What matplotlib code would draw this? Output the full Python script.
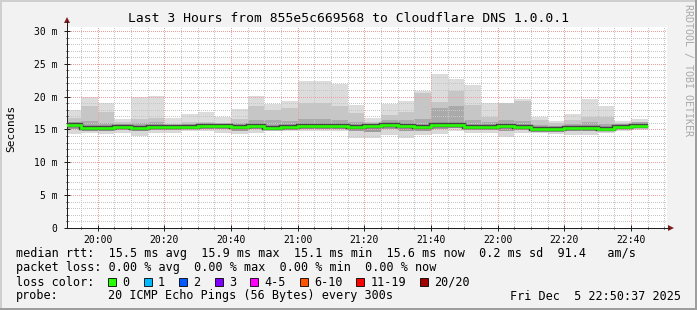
import matplotlib
matplotlib.use('Agg')
import matplotlib.pyplot as plt
import matplotlib.dates as mdates
from matplotlib.patches import Rectangle, Polygon
from matplotlib.lines import Line2D
from matplotlib.ticker import MultipleLocator
import pandas as pd

# ---------------- data (ms), one value per 5-minute bin starting 19:50 ----------------
bin_start = "2025-12-05 19:50"
bin_minutes = 5
ping_max = [18.0, 20.0, 19.0, 16.6, 19.9, 20.1, 16.8, 17.4, 17.6, 16.95, 18.1, 20.1,
            18.9, 19.3, 22.4, 22.4, 21.9, 18.8, 16.8, 18.9, 19.4, 20.9, 23.45, 22.7,
            21.8, 19.1, 19.1, 19.6, 16.85, 16.3, 17.4, 19.6, 18.6, 16.3, 16.6]
ping_q90 = [16.7, 18.5, 17.6, 16.2, 16.6, 16.75, 15.9, 16.2, 16.2, 15.95, 16.6, 18.5,
            18.0, 18.3, 19.0, 19.0, 18.5, 17.5, 16.2, 17.2, 17.6, 20.5, 19.2, 20.9,
            18.7, 16.95, 19.0, 19.3, 16.5, 16.0, 16.5, 16.85, 16.95, 16.0, 16.2]
ping_q75 = [16.2, 16.3, 16.0, 15.9, 16.0, 16.1, 15.7, 15.9, 16.0, 15.9, 16.0, 16.5,
            16.4, 16.3, 16.6, 16.6, 16.4, 16.2, 15.9, 16.4, 16.5, 16.6, 18.2, 18.5,
            16.5, 16.1, 16.4, 16.3, 15.7, 15.6, 15.9, 16.1, 15.8, 15.9, 16.1]
ping_median = [15.63, 15.23, 15.23, 15.38, 15.23, 15.45, 15.3, 15.45, 15.53, 15.5, 15.3, 15.6,
               15.27, 15.3, 15.5, 15.5, 15.6, 15.4, 15.6, 15.7, 15.6, 15.4, 15.7, 15.7,
               15.4, 15.45, 15.5, 15.4, 15.07, 15.07, 15.2, 15.25, 15.07, 15.45, 15.6]
ping_q10 = [15.0, 14.8, 14.7, 14.9, 14.8, 14.9, 14.9, 15.0, 15.1, 15.0, 14.8, 15.0,
            15.0, 14.9, 15.0, 15.1, 15.1, 14.7, 14.6, 15.0, 14.7, 14.8, 15.1, 15.2,
            14.9, 14.9, 14.8, 14.9, 14.6, 14.6, 14.7, 14.7, 14.7, 15.0, 15.2]
ping_min = [14.3, 14.4, 14.3, 14.5, 14.0, 14.4, 14.5, 14.7, 14.7, 14.5, 14.3, 14.4,
            14.7, 14.7, 14.7, 14.8, 14.8, 13.75, 13.65, 14.2, 13.65, 14.2, 14.3, 14.7,
            14.4, 14.4, 13.9, 14.4, 14.4, 14.3, 14.1, 14.1, 14.4, 14.7, 14.9]

y_ticks = [0, 5, 10, 15, 20, 25, 30]
y_tick_labels = ["0", "5 m", "10 m", "15 m", "20 m", "25 m", "30 m"]
title = "Last 3 Hours from 855e5c669568 to Cloudflare DNS 1.0.0.1"
legend_rtt = "median rtt:  15.5 ms avg  15.9 ms max  15.1 ms min  15.6 ms now  0.2 ms sd  91.4   am/s"
legend_loss = "packet loss: 0.00 % avg  0.00 % max  0.00 % min  0.00 % now"
loss_labels = ["0", "1", "2", "3", "4-5", "6-10", "11-19", "20/20"]
loss_colors = ["#26ff00", "#00b8ff", "#0059ff", "#7e00ff", "#ff00ff", "#ff5500", "#ff0000", "#a10000"]
probe_text = "20 ICMP Echo Pings (56 Bytes) every 300s"
stamp_text = "Fri Dec  5 22:50:37 2025"

# ---------------- figure ----------------
W, H = 697, 310
MONO = "DejaVu Sans Mono"
plt.rcParams['font.family'] = MONO
fig = plt.figure(figsize=(W / 100, H / 100), dpi=100, facecolor='#f2f2f2')


def fx(px):
    return px / W


def fy(py):
    return 1 - py / H


L, R, T, B = 67, 667, 27, 228
ax = fig.add_axes([fx(L), fy(B), fx(R) - fx(L), fy(T) - fy(B)])
ax.set_facecolor('white')

edges = mdates.date2num(pd.date_range(bin_start, periods=len(ping_median) + 1,
                                      freq=f"{bin_minutes}min"))

ax.stairs(ping_max, edges, baseline=ping_q90, fill=True, facecolor='#dcdcdc', edgecolor='none', zorder=1)
ax.stairs(ping_q90, edges, baseline=ping_q75, fill=True, facecolor='#c6c6c6', edgecolor='none', zorder=1)
ax.stairs(ping_q75, edges, baseline=ping_median, fill=True, facecolor='#aaaaaa', edgecolor='none', zorder=1)
ax.stairs(ping_median, edges, baseline=ping_q10, fill=True, facecolor='#9c9c9c', edgecolor='none', zorder=1)
ax.stairs(ping_q10, edges, baseline=ping_min, fill=True, facecolor='#d8d8d8', edgecolor='none', zorder=1)
ax.stairs(ping_median, edges, baseline=None, color='#454545', linewidth=3.2, zorder=3)
ax.stairs(ping_median, edges, baseline=None, color=loss_colors[0], linewidth=1.9, zorder=4)

x0 = pd.Timestamp("2025-12-05 19:50:48")
ax.set_xlim(mdates.date2num(x0), mdates.date2num(x0 + pd.Timedelta(hours=3)))
ax.set_ylim(0, 30.6)

ax.xaxis.set_major_locator(mdates.MinuteLocator(byminute=[0, 20, 40]))
ax.xaxis.set_minor_locator(mdates.MinuteLocator(byminute=range(0, 60, 5)))
ax.xaxis.set_major_formatter(mdates.DateFormatter('%H:%M'))
ax.set_yticks(y_ticks)
ax.set_yticklabels(y_tick_labels)
ax.yaxis.set_minor_locator(MultipleLocator(1))

ax.grid(which='minor', color='#c6c6c6', linestyle=':', linewidth=0.72, antialiased=False)
ax.grid(which='major', color='#eda0a0', linestyle=':', linewidth=0.72, antialiased=False)
ax.set_axisbelow(False)

for s in ['top', 'right']:
    ax.spines[s].set_visible(False)
ax.spines['left'].set_color('#1f1f1f')
ax.spines['bottom'].set_color('#1f1f1f')
ax.spines['left'].set_linewidth(0.72)
ax.spines['bottom'].set_linewidth(0.72)
ax.tick_params(which='major', direction='inout', length=4, width=0.72, color='#1f1f1f',
               labelsize=7, pad=3)
ax.tick_params(which='minor', direction='inout', length=2, width=0.72, color='#1f1f1f')
ax.tick_params(axis='y', which='major', pad=5)

# axis extensions and arrows (in figure pixels)
fig.add_artist(Line2D([fx(L), fx(L)], [fy(T), fy(21)], color='#1f1f1f', lw=0.72))
fig.add_artist(Line2D([fx(R), fx(669)], [fy(B), fy(B)], color='#1f1f1f', lw=0.72))
fig.add_artist(Polygon([(fx(L - 3), fy(23)), (fx(L + 3), fy(23)), (fx(L), fy(17))],
                       closed=True, facecolor='#801f1f', edgecolor='none'))
fig.add_artist(Polygon([(fx(668), fy(B - 3)), (fx(668), fy(B + 3)), (fx(674), fy(B))],
                       closed=True, facecolor='#801f1f', edgecolor='none'))

# texts
fig.text(fx(348), fy(18), title, ha='center', va='center', fontsize=9.4, color='black')
fig.text(fx(11), fy(128), "Seconds", rotation=90, ha='center', va='center', fontsize=8)
fig.text(fx(688), fy(4), "RRDTOOL / TOBI OETIKER", rotation=270, ha='center', va='top',
         fontsize=7.2, color='#a8a8a8')

LS = 8.5
fig.text(fx(16), fy(254), legend_rtt, ha='left', va='center', fontsize=LS)
fig.text(fx(16), fy(268), legend_loss, ha='left', va='center', fontsize=LS)
fig.text(fx(16), fy(282), "loss color:", ha='left', va='center', fontsize=LS)
char_w = 7.09
col = 13
for lab, c in zip(loss_labels, loss_colors):
    bx = 16 + col * char_w
    fig.add_artist(Rectangle((fx(bx), fy(286)), 8 / W, 8 / H, facecolor=c,
                             edgecolor='black', linewidth=0.6))
    fig.text(fx(bx + 2 * char_w), fy(282), lab, ha='left', va='center', fontsize=LS)
    col += 2 + len(lab) + 2
fig.text(fx(16), fy(296), "probe:", ha='left', va='center', fontsize=LS)
fig.text(fx(108), fy(296), probe_text, ha='left', va='center', fontsize=LS)
fig.text(fx(681), fy(296), stamp_text, ha='right', va='center', fontsize=LS)

# 3D frame
fig.add_artist(Line2D([0, 1], [1 - 1 / H, 1 - 1 / H], color='#cfcfcf', lw=1.44))
fig.add_artist(Line2D([1 / W, 1 / W], [0, 1], color='#cfcfcf', lw=1.44))
fig.add_artist(Line2D([0, 1], [1 / H, 1 / H], color='#9e9e9e', lw=1.44))
fig.add_artist(Line2D([1 - 1 / W, 1 - 1 / W], [0, 1], color='#9e9e9e', lw=1.44))

fig.savefig('out.png', dpi=100, facecolor=fig.get_facecolor())
